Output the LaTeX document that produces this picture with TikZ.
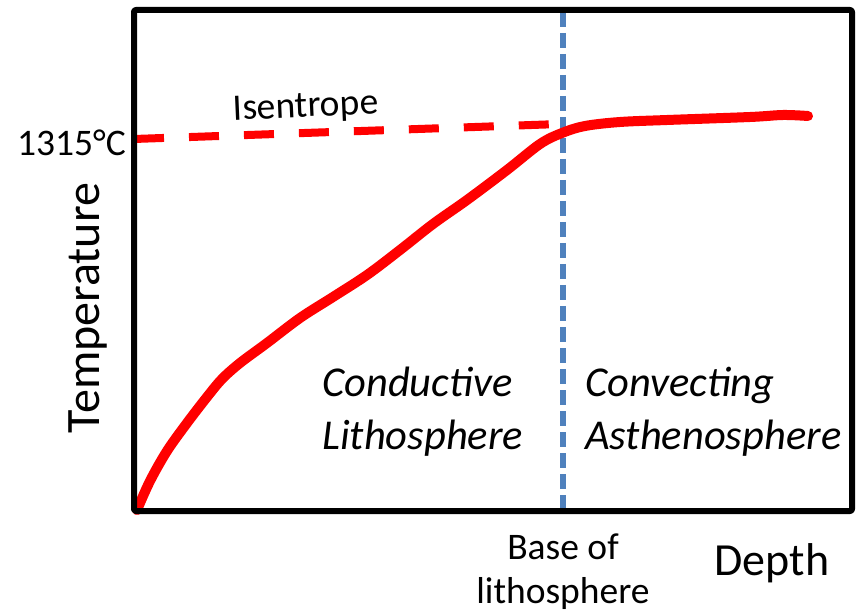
\documentclass[tikz,border=0pt]{standalone}
\usepackage{fontspec}
\setmainfont{Carlito}
\definecolor{curvered}{RGB}{255,0,0}
\definecolor{lineblue}{RGB}{79,129,189}
\begin{document}
\begin{tikzpicture}[x=1pt,y=-1pt,
  lbl/.style={inner sep=0pt,font=\fontsize{37.5}{44}\selectfont},
  biglbl/.style={inner sep=0pt,font=\fontsize{46}{54}\selectfont},
  itlbl/.style={inner sep=0pt,font=\fontsize{42.5}{53}\selectfont\itshape,align=left,anchor=west},
  frame/.style={line width=6pt,rounded corners=2pt,line join=round},
  base/.style={draw=lineblue,line width=5.5pt,dash pattern=on 15pt off 6pt},
  isen/.style={draw=curvered,line width=8pt,dash pattern=on 30pt off 25pt},
  geo/.style={draw=curvered,line width=10pt,line cap=round,line join=round}]
\useasboundingbox (0,0) rectangle (862,612);
% blue base-of-lithosphere line
\coordinate (btop) at (563,12);
\coordinate (bbot) at (563,509);
\draw[base] (btop) -- (bbot);
% isentrope
\coordinate (is0) at (134,139);
\coordinate (is1) at (560,124);
\draw[isen] (is0) -- (is1);
% geotherm
\draw[geo] plot[smooth,tension=0.55] coordinates {(137,510) (150,481) (167,451) (187,423) (207,397) (222,379) (240,363) (267,343) (300,318) (333,297) (367,275) (400,250) (433,224) (467,200) (507,170) (540,144) (562,133) (585,126) (620,122) (667,120) (750,117) (783,115) (808,116)};
% frame
\draw[frame] (134,10) rectangle (852,511);
% labels
\node[lbl,anchor=east] (t1315) at (126,143) {1315°C};
\node[lbl,rotate=2.5] (isentrope) at (306,108) {Isentrope};
\node[biglbl,font=\fontsize{48}{54}\selectfont,rotate=90] (temp) at (88,308) {Temperature};
\node[biglbl] (depth) at (772,563) {Depth};
\node[lbl,align=center] (base) at (563,572) {Base of\\lithosphere};
\node[itlbl] (cond) at (322,412) {Conductive\\Lithosphere};
\node[itlbl] (conv) at (585,412) {Convecting\\Asthenosphere};
\end{tikzpicture}
\end{document}
